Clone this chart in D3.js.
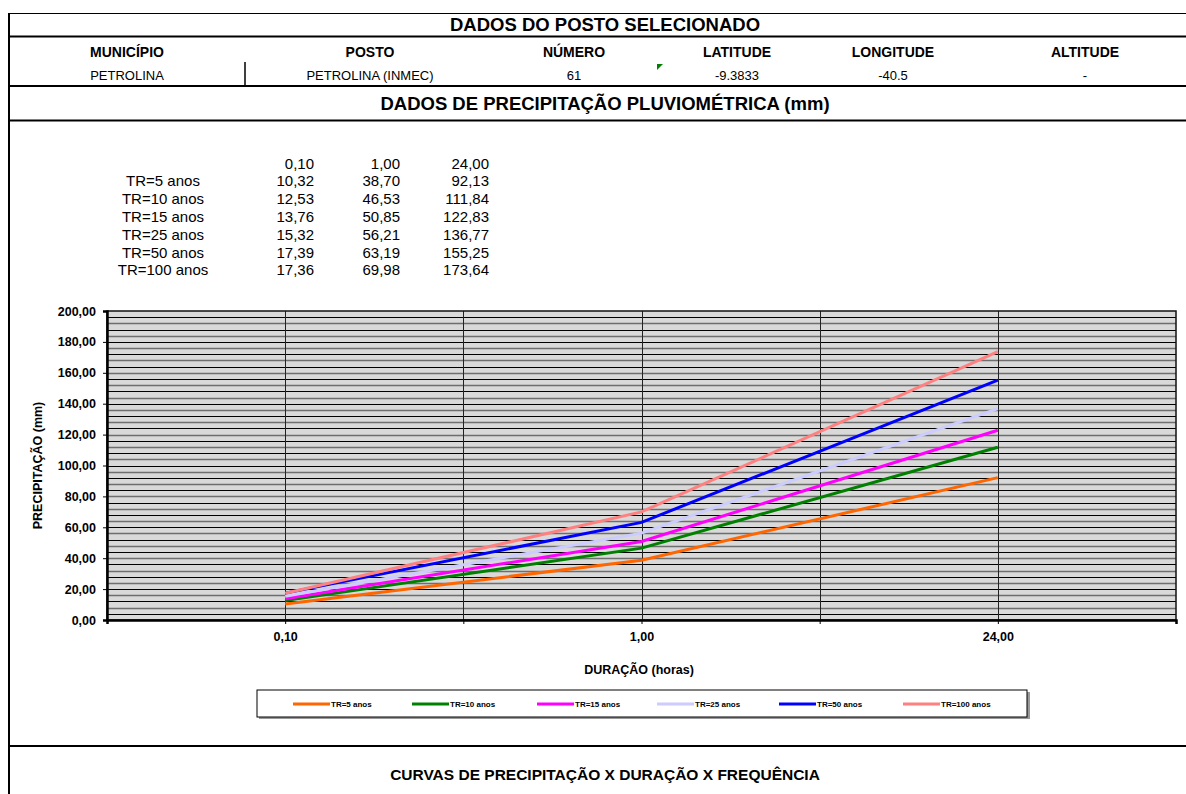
<!DOCTYPE html>
<html>
<head>
<meta charset="utf-8">
<script src="https://cdn.jsdelivr.net/npm/d3@7"></script>
<style>
  body { margin: 0; background: #fff; }
  text { font-family: "Liberation Sans", Arial, sans-serif; }
</style>
</head>
<body>
<div id="chart"></div>
<script>
// dados do posto
var headers = ["MUNICÍPIO", "POSTO", "NÚMERO", "LATITUDE", "LONGITUDE", "ALTITUDE"];
var values = ["PETROLINA", "PETROLINA (INMEC)", "61", "-9.3833", "-40.5", "-"];

// duracoes (horas) e series
var duracoes = ["0,10", "1,00", "24,00"];
var series = ["TR=5 anos", "TR=10 anos", "TR=15 anos", "TR=25 anos", "TR=50 anos", "TR=100 anos"];
var tr5 = [10.32, 38.70, 92.13];
var tr10 = [12.53, 46.53, 111.84];
var tr15 = [13.76, 50.85, 122.83];
var tr25 = [15.32, 56.21, 136.77];
var tr50 = [17.39, 63.19, 155.25];
var tr100 = [17.36, 69.98, 173.64];
var yTicks = [0, 20, 40, 60, 80, 100, 120, 140, 160, 180, 200];

var colors = ["#ff6600", "#008000", "#ff00ff", "#ccccff", "#0000ff", "#ff8080"];

var width = 1186, height = 794;
var fmt = function(v) { return d3.format(".2f")(v).replace(".", ","); };

var svg = d3.select("#chart").append("svg")
    .attr("width", width)
    .attr("height", height);

// ---- moldura / tabela
var bl = svg.append("g").attr("stroke", "#000").attr("fill", "none");
bl.append("line").attr("x1", 8).attr("x2", width).attr("y1", 13.5).attr("y2", 13.5).attr("stroke-width", 1);
[36.5, 86, 120.5, 746].forEach(function(y) {
    bl.append("line").attr("x1", 8).attr("x2", width).attr("y1", y).attr("y2", y).attr("stroke-width", 2);
});
bl.append("line").attr("x1", 9).attr("x2", 9).attr("y1", 13).attr("y2", height).attr("stroke-width", 2);
bl.append("line").attr("x1", 245).attr("x2", 245).attr("y1", 62).attr("y2", 86).attr("stroke-width", 1.5);

svg.append("text").attr("x", 605).attr("y", 31).attr("text-anchor", "middle")
    .style("font-size", "18.5px").style("font-weight", "bold").text("DADOS DO POSTO SELECIONADO");

var colX = [127, 370, 574, 737, 893, 1085];
headers.forEach(function(h, i) {
    svg.append("text").attr("x", colX[i]).attr("y", 57).attr("text-anchor", "middle")
        .style("font-size", "14px").style("font-weight", "bold").text(h);
});
values.forEach(function(v, i) {
    svg.append("text").attr("x", colX[i]).attr("y", 80).attr("text-anchor", "middle")
        .style("font-size", "13px").text(v);
});
// marca verde do excel
svg.append("path").attr("d", "M657,64 L663,64 L657,70 Z").attr("fill", "#008000");

svg.append("text").attr("x", 605).attr("y", 110).attr("text-anchor", "middle")
    .style("font-size", "18.5px").style("font-weight", "bold").text("DADOS DE PRECIPITAÇÃO PLUVIOMÉTRICA (mm)");

// ---- tabela de valores
var allSeries = [tr5, tr10, tr15, tr25, tr50, tr100];
var colRight = [314, 400, 489];
var rowY = d3.range(7).map(function(i) { return 168.5 + i * 17.8; });
duracoes.forEach(function(d, j) {
    svg.append("text").attr("x", colRight[j]).attr("y", rowY[0]).attr("text-anchor", "end")
        .style("font-size", "15px").text(d);
});
series.forEach(function(s, i) {
    svg.append("text").attr("x", 163).attr("y", rowY[i + 1]).attr("text-anchor", "middle")
        .style("font-size", "15px").text(s);
    allSeries[i].forEach(function(v, j) {
        svg.append("text").attr("x", colRight[j]).attr("y", rowY[i + 1]).attr("text-anchor", "end")
            .style("font-size", "15px").text(fmt(v));
    });
});

// ---- grafico
var plotL = 107, plotR = 1176, plotT = 311, plotB = 620;
var x = d3.scaleLinear().domain([0, duracoes.length * 2]).range([plotL, plotR]);
var y = d3.scaleLinear().domain([0, 200]).range([plotB, plotT]);

var plot = svg.append("g");
plot.append("rect").attr("x", plotL).attr("y", plotT).attr("width", plotR - plotL).attr("height", plotB - plotT)
    .attr("fill", "#d9d9d9");

// linhas de grade horizontais (a cada 4 mm)
var minor = d3.range(4, 200, 4);
plot.selectAll(".hg").data(minor).enter().append("line")
    .attr("x1", plotL).attr("x2", plotR)
    .attr("y1", function(d) { return Math.round(y(d)) + 0.5; })
    .attr("y2", function(d) { return Math.round(y(d)) + 0.5; })
    .attr("stroke", function(d, i) { return i % 2 ? "#6e6e6e" : "#000"; })
    .attr("stroke-width", function(d, i) { return i % 2 ? 1.6 : 1; });

// linhas de grade verticais
plot.selectAll(".vg").data(d3.range(1, duracoes.length * 2)).enter().append("line")
    .attr("x1", function(d) { return Math.round(x(d)) + 0.5; })
    .attr("x2", function(d) { return Math.round(x(d)) + 0.5; })
    .attr("y1", plotT).attr("y2", plotB)
    .attr("stroke", "#222").attr("stroke-width", 1);

// borda
plot.append("rect").attr("x", plotL).attr("y", plotT).attr("width", plotR - plotL).attr("height", plotB - plotT)
    .attr("fill", "none").attr("stroke", "#111").attr("stroke-width", 1.5);

// eixos
var yAxis = d3.axisLeft(y).tickValues(yTicks).tickSize(4).tickFormat(fmt);
var gy = svg.append("g").attr("transform", "translate(" + plotL + ",0)").call(yAxis);
gy.select(".domain").attr("stroke-width", 2.5);
gy.selectAll("text").style("font-size", "12.5px").style("font-weight", "bold").attr("fill", "#000")
    .attr("font-family", null).attr("dx", "-4");

var xAxis = d3.axisBottom(x).tickValues(d3.range(0, duracoes.length * 2 + 1)).tickSize(4)
    .tickFormat(function(d) { return d % 2 ? duracoes[(d - 1) / 2] : ""; });
var gx = svg.append("g").attr("transform", "translate(0," + plotB + ")").call(xAxis);
gx.select(".domain").attr("stroke-width", 2.5);
gx.selectAll("text").style("font-size", "12.5px").style("font-weight", "bold").attr("fill", "#000")
    .attr("font-family", null).attr("dy", "1.1em");

svg.append("text").attr("transform", "translate(42," + ((plotT + plotB) / 2) + ") rotate(-90)")
    .attr("text-anchor", "middle").style("font-size", "12.5px").style("font-weight", "bold")
    .text("PRECIPITAÇÃO  (mm)");
svg.append("text").attr("x", 639).attr("y", 674).attr("text-anchor", "middle")
    .style("font-size", "12.5px").style("font-weight", "bold").text("DURAÇÃO  (horas)");

// series
var line = d3.line()
    .x(function(d, j) { return x(j * 2 + 1); })
    .y(function(d) { return y(d); });
svg.append("g").selectAll("path").data(allSeries).enter().append("path")
    .attr("d", line)
    .attr("fill", "none")
    .attr("stroke", function(d, i) { return colors[i]; })
    .attr("stroke-width", 3);

// legenda
var lg = svg.append("g");
lg.append("rect").attr("x", 259).attr("y", 692).attr("width", 771).attr("height", 27).attr("fill", "#999");
lg.append("rect").attr("x", 257).attr("y", 690).attr("width", 770).attr("height", 27)
    .attr("fill", "#fff").attr("stroke", "#000").attr("stroke-width", 1);
var lgX = [293, 412, 537, 657, 779, 903];
series.forEach(function(s, i) {
    lg.append("line").attr("x1", lgX[i]).attr("x2", lgX[i] + 37).attr("y1", 704).attr("y2", 704)
        .attr("stroke", colors[i]).attr("stroke-width", 3);
    lg.append("text").attr("x", lgX[i] + 38).attr("y", 707)
        .style("font-size", "8px").style("font-weight", "bold").text(s);
});

svg.append("text").attr("x", 605).attr("y", 780).attr("text-anchor", "middle")
    .style("font-size", "15.5px").style("font-weight", "bold")
    .text("CURVAS DE PRECIPITAÇÃO X DURAÇÃO X FREQUÊNCIA");
</script>
</body>
</html>
